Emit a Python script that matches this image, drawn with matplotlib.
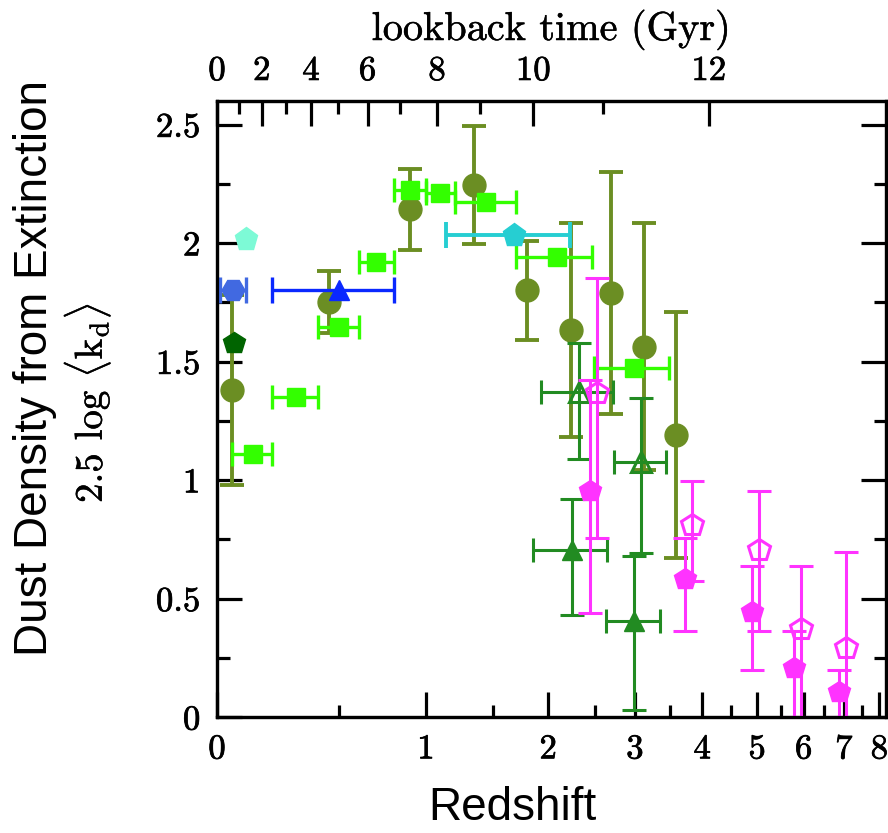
import numpy as np
import matplotlib
matplotlib.use("Agg")
import matplotlib.pyplot as plt
import matplotlib.patheffects as pe
from matplotlib.ticker import FixedLocator, FixedFormatter, NullFormatter

# ---------------- data (redshift z, 2.5 log <k_d>) ----------------
# olive circles
circ_z = [0.051, 0.449, 0.899, 1.346, 1.794, 2.236, 2.693, 3.128, 3.58]
circ_v = [1.38, 1.75, 2.142, 2.245, 1.80, 1.633, 1.79, 1.563, 1.19]
circ_err = [0.40, 0.13, 0.17, 0.25, 0.21, 0.45, 0.51, 0.52, 0.52]

# lime squares (with redshift bins)
sq_z = [0.126, 0.300, 0.497, 0.697, 0.899, 1.096, 1.442, 2.086, 2.99]
sq_v = [1.11, 1.352, 1.644, 1.921, 2.224, 2.212, 2.174, 1.942, 1.471]
sq_zlo = [0.05, 0.20, 0.40, 0.60, 0.80, 1.00, 1.20, 1.70, 2.49]
sq_zhi = [0.20, 0.40, 0.60, 0.80, 1.00, 1.20, 1.70, 2.47, 3.48]

# blue triangle
btri_z = [0.497]; btri_v = [1.80]; btri_zlo = [0.20]; btri_zhi = [0.80]
# royal blue hexagon
hex_z = [0.053]; hex_v = [1.80]; hex_zlo = [0.011]; hex_zhi = [0.101]
# aquamarine pentagon
aqua_z = [0.101]; aqua_v = [2.017]
# dark green pentagon
dkg_z = [0.057]; dkg_v = [1.577]
# turquoise pentagon
turq_z = [1.679]; turq_v = [2.034]; turq_zlo = [1.138]; turq_zhi = [2.22]

# forest green filled triangles
ftri_z = [2.25, 2.99]; ftri_v = [0.705, 0.406]
ftri_zlo = [1.856, 2.64]; ftri_zhi = [2.651, 3.34]
ftri_vlo = [0.43, 0.03]; ftri_vhi = [0.92, 0.68]
# forest green open triangles
otri_z = [2.324, 3.088]; otri_v = [1.37, 1.077]
otri_zlo = [1.93, 2.73]; otri_zhi = [2.725, 3.43]
otri_vlo = [1.09, 0.692]; otri_vhi = [1.58, 1.345]

# magenta filled pentagons
fpen_z = [2.447, 3.725, 4.89, 5.78, 6.86]
fpen_v = [0.953, 0.581, 0.444, 0.205, 0.107]
fpen_lo = [0.44, 0.364, 0.198, 0.0, 0.0]
fpen_hi = [1.422, 0.754, 0.638, 0.364, 0.198]
# magenta open pentagons
open_z = [2.525, 3.84, 5.04, 5.94, 7.05]
open_v = [1.368, 0.81, 0.705, 0.37, 0.29]
open_lo = [0.754, 0.575, 0.364, 0.0, 0.0]
open_hi = [1.853, 0.994, 0.952, 0.638, 0.695]

z_major = [0, 1, 2, 3, 4, 5, 6, 7, 8]
z_minor = [0.5, 1.5, 2.5, 3.5, 4.5, 5.5, 6.5, 7.5]
y_major = [0, 0.5, 1, 1.5, 2, 2.5]
y_labels = ["0", "0.5", "1", "1.5", "2", "2.5"]
y_minor = [0.25, 0.75, 1.25, 1.75, 2.25]
lb_major = [0, 2, 4, 6, 8, 10, 12]
lb_minor = [1, 3, 5, 7, 9, 11]

# ---------------- helpers ----------------
def fwd(z):
    return np.log10(1.0 + np.asarray(z, dtype=float))

def inv(x):
    return 10.0 ** np.asarray(x, dtype=float) - 1.0

H0, Om, OL = 70.0, 0.3, 0.7
zz = np.linspace(0, 20, 40001)
ig = 1.0 / ((1 + zz) * np.sqrt(Om * (1 + zz) ** 3 + OL))
tl = (977.79 / H0) * np.concatenate([[0], np.cumsum(0.5 * (ig[1:] + ig[:-1]) * np.diff(zz))])
def z_of_t(t):
    return np.interp(t, tl, zz)

def xerr(z, lo, hi):
    z = np.asarray(z); return [z - np.asarray(lo), np.asarray(hi) - z]

def yerr(v, lo, hi):
    v = np.asarray(v); return [v - np.asarray(lo), np.asarray(hi) - v]

# ---------------- figure ----------------
W, H = 888, 833
fig = plt.figure(figsize=(W / 100, H / 100), dpi=100)
L, R, B, T = 217, 886, 717, 100.8
ax = fig.add_axes([L / W, 1 - B / H, (R - L) / W, (B - T) / H])
ax.set_xscale('function', functions=(fwd, inv))
ax.set_xlim(0, 8.2)
ax.set_ylim(0, 2.6)

OLIVE = '#6b8e23'; LIME = '#33ff00'; BLUE = '#0a28ff'; RBLUE = '#4169e1'
AQUA = '#7dfad6'; DKG = '#006400'; TURQ = '#26ced2'; FOREST = '#228b22'; MAG = '#ff33ff'

zo = 3
ax.errorbar(circ_z, circ_v, yerr=circ_err, fmt='o', color=OLIVE, ms=16.5,
            elinewidth=2.8, capsize=8.6, capthick=2.8, zorder=zo)
ax.errorbar(sq_z, sq_v, xerr=xerr(sq_z, sq_zlo, sq_zhi), fmt='s', color=LIME, ms=12.7,
            elinewidth=2.4, capsize=8.3, capthick=2.4, zorder=zo + 1)
ax.errorbar(ftri_z, ftri_v, xerr=xerr(ftri_z, ftri_zlo, ftri_zhi),
            yerr=yerr(ftri_v, ftri_vlo, ftri_vhi), fmt='^', color=FOREST, ms=14,
            elinewidth=2.2, capsize=8.3, capthick=2.2, zorder=zo + 2)
ax.errorbar(otri_z, otri_v, xerr=xerr(otri_z, otri_zlo, otri_zhi),
            yerr=yerr(otri_v, otri_vlo, otri_vhi), fmt='^', color=FOREST, mfc='none',
            mew=2.2, ms=14, elinewidth=2.2, capsize=8.3, capthick=2.2, zorder=zo + 2)
ax.errorbar(fpen_z, fpen_v, yerr=yerr(fpen_v, fpen_lo, fpen_hi), fmt='p', color=MAG,
            ms=16.5, elinewidth=2.2, capsize=8.3, capthick=2.2, zorder=zo + 3)
ax.errorbar(open_z, open_v, yerr=yerr(open_v, open_lo, open_hi), fmt='p', color=MAG,
            mfc='none', mew=2.2, ms=16.5, elinewidth=2.2, capsize=8.3, capthick=2.2,
            zorder=zo + 3)
ax.errorbar(turq_z, turq_v, xerr=xerr(turq_z, turq_zlo, turq_zhi), fmt='p', color=TURQ,
            ms=17.4, elinewidth=2.8, capsize=9.3, capthick=2.8, zorder=zo + 4)
ax.errorbar(btri_z, btri_v, xerr=xerr(btri_z, btri_zlo, btri_zhi), fmt='^', color=BLUE,
            ms=14.4, elinewidth=2.4, capsize=9.7, capthick=2.4, zorder=zo + 4)
ax.errorbar(hex_z, hex_v, xerr=xerr(hex_z, hex_zlo, hex_zhi), fmt='H', color=RBLUE,
            ms=16.6, elinewidth=2.4, capsize=9.7, capthick=2.4, zorder=zo + 4)
ax.plot(aqua_z, aqua_v, 'p', color=AQUA, ms=17.4, zorder=zo + 4)
ax.plot(dkg_z, dkg_v, 'p', color=DKG, ms=16.5, zorder=zo + 4)

# ---------------- axes styling ----------------
TICKFONT = 'cmr10'
BOLDEN = [pe.Stroke(linewidth=0.55, foreground='black'), pe.Normal()]
LIGHT = [pe.Stroke(linewidth=0.35, foreground='black'), pe.Normal()]
for s in ax.spines.values():
    s.set_linewidth(2.3)
ax.xaxis.set_major_locator(FixedLocator(z_major))
ax.xaxis.set_major_formatter(FixedFormatter([str(v) for v in z_major]))
ax.xaxis.set_minor_locator(FixedLocator(z_minor))
ax.xaxis.set_minor_formatter(NullFormatter())
ax.yaxis.set_major_locator(FixedLocator(y_major))
ax.yaxis.set_major_formatter(FixedFormatter(y_labels))
ax.yaxis.set_minor_locator(FixedLocator(y_minor))
ax.yaxis.set_minor_formatter(NullFormatter())
ax.tick_params(which='both', direction='in', top=False, right=True, width=2.3)
ax.tick_params(which='major', length=18, labelsize=25, pad=12)
ax.tick_params(which='minor', length=9)
for lab in ax.get_xticklabels() + ax.get_yticklabels():
    lab.set_fontfamily(TICKFONT)
    lab.set_path_effects(BOLDEN)

top = ax.twiny()
top.set_xscale('function', functions=(fwd, inv))
top.set_xlim(ax.get_xlim())
top.xaxis.set_major_locator(FixedLocator(z_of_t(lb_major)))
top.xaxis.set_major_formatter(FixedFormatter([str(v) for v in lb_major]))
top.xaxis.set_minor_locator(FixedLocator(z_of_t(lb_minor)))
top.xaxis.set_minor_formatter(NullFormatter())
top.tick_params(which='both', direction='in', width=2.3)
top.tick_params(which='major', length=18, labelsize=25, pad=10)
top.tick_params(which='minor', length=9)
for lab in top.get_xticklabels():
    lab.set_fontfamily(TICKFONT)
    lab.set_path_effects(BOLDEN)
for s in top.spines.values():
    s.set_linewidth(2.3)

plt.rcParams['mathtext.fontset'] = 'cm'
fig.text(551 / W, 1 - 30 / H, 'lookback time (Gyr)', family=TICKFONT, fontsize=29,
         ha='center', va='center', path_effects=LIGHT)
fig.text(512 / W, 1 - 808 / H, 'Redshift', family='Liberation Sans', fontsize=33,
         ha='center', va='center')
fig.text(35 / W, 1 - 368 / H, 'Dust Density from Extinction', family='Liberation Sans',
         fontsize=33, ha='center', va='center', rotation=90)
fig.text(88 / W, 1 - 403 / H, r'2.5 log $\langle\mathrm{k}_\mathrm{d}\rangle$',
         family=TICKFONT, fontsize=28, ha='center', va='center', rotation=90,
         path_effects=LIGHT)

fig.savefig('out.png', dpi=100)
